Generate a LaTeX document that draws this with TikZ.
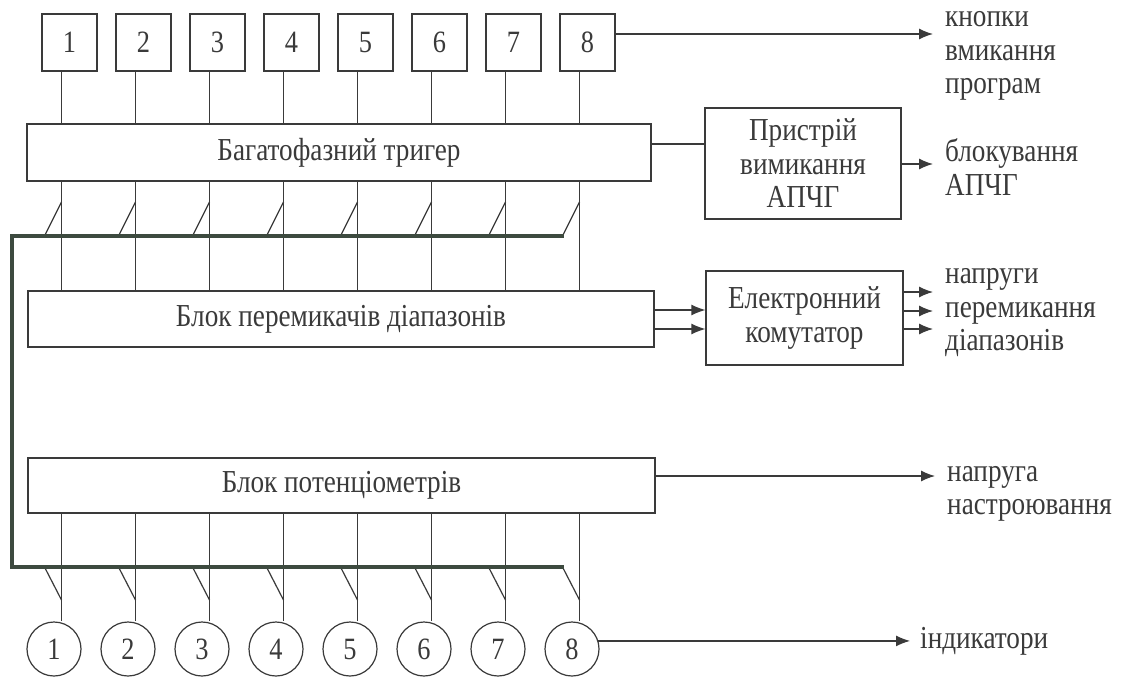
\documentclass[tikz,border=0pt]{standalone}
\usepackage{fontspec}
\setmainfont{Liberation Serif}[FakeStretch=0.85]
\usetikzlibrary{arrows.meta}

\definecolor{ink}{HTML}{3A3A3A}
\definecolor{busink}{HTML}{3D4A3F}

\begin{document}
\begin{tikzpicture}[x=1pt,y=-1pt,
  every node/.style={font=\fontsize{32}{33.5}\selectfont, text=ink},
  wire/.style={draw=ink, line width=1.2pt},
  bus/.style={draw=busink, line width=3.4pt, line join=miter, line cap=rect},
  arr/.style={wire, -{Latex[length=14pt,width=11pt]}},
  blk/.style={draw=ink, line width=1.2pt, rectangle, inner sep=0pt},
  sq/.style={blk, minimum width=55pt, minimum height=57pt, font=\fontsize{31}{31}\selectfont},
  ind/.style={draw=ink, line width=1.2pt, circle, minimum size=54pt, inner sep=0pt, font=\fontsize{31}{31}\selectfont},
  lbl/.style={anchor=west, align=left, inner sep=1pt}
]
% page area
\fill[white] (0,0) rectangle (1140,677);
\useasboundingbox (0,0) rectangle (1140,677);

% wide blocks
\node[blk, minimum width=624pt, minimum height=57pt] (trig)  at (339,152.5) {Багатофазний тригер};
\node[blk, minimum width=626pt, minimum height=56pt] (perem) at (341,319)   {Блок перемикачів діапазонів};
\node[blk, minimum width=627pt, minimum height=55pt] (pot)   at (341.5,485.5) {Блок потенціометрів};

% side blocks
\node[blk, minimum width=196pt, minimum height=111pt, align=center] (pr) at (803,163.5) {Пристрій\\вимикання\\АПЧГ};
\node[blk, minimum width=197pt, minimum height=94pt, align=center] (el) at (804.5,318) {Електронний\\комутатор};

% program buttons, indicators and their channel wires
\foreach \i in {1,...,8} {
  \pgfmathsetmacro\lx{61.5+74*(\i-1)}
  \coordinate (t\i) at (\lx,0);
  \node[sq]  (b\i) at (\lx+8,42.5) {\i};
  \node[ind] (c\i) at (\lx-7.5,649) {\i};
  \draw[wire] (b\i.south -| t\i) -- (trig.north -| t\i);
  \draw[wire] (trig.south -| t\i) -- (perem.north -| t\i);
  \draw[wire] (pot.south -| t\i) -- (c\i.north -| t\i);
  % switch contacts on the common bus
  \coordinate (ku\i) at (\lx-17,236);
  \coordinate (kd\i) at (\lx-17,567);
  \draw[wire] (ku\i) -- (\lx,202);
  \draw[wire] (kd\i) -- (\lx,600);
}

% common bus
\coordinate (busTL) at (12,236);
\coordinate (busBL) at (12,567);
\draw[bus] (ku8) -- (busTL) -- (busBL) -- (kd8);

% outputs
\coordinate (o1) at (933,34);
\coordinate (ya) at (0,144);
\coordinate (o2) at (933,164);
\coordinate (p1) at (0,310);
\coordinate (p2) at (0,329);
\coordinate (q1) at (933,292);
\coordinate (q2) at (933,311);
\coordinate (q3) at (933,329);
\coordinate (o5) at (935,476);
\coordinate (o6) at (910,0);

\draw[arr] (b8.east |- o1) -- (o1);
\draw[wire] (trig.east |- ya) -- (pr.west |- ya);
\draw[arr] (pr.east |- o2) -- (o2);
\draw[arr] (perem.east |- p1) -- (el.west |- p1);
\draw[arr] (perem.east |- p2) -- (el.west |- p2);
\draw[arr] (el.east |- q1) -- (q1);
\draw[arr] (el.east |- q2) -- (q2);
\draw[arr] (el.east |- q3) -- (q3);
\draw[arr] (pot.east |- o5) -- (o5);
\draw[arr] (c8.17) -- (c8.17 -| o6);

% output labels
\node[lbl] (lk) at (944,56)    {кнопки\\вмикання\\програм};
\node[lbl] (lb) at (944,167) {блокування\\АПЧГ};
\node[lbl] (ln) at (944,313)   {напруги\\перемикання\\діапазонів};
\node[lbl] (lt) at (946,494)   {напруга\\настроювання};
\node[lbl] (li) at (919,641)   {індикатори};
\end{tikzpicture}
\end{document}
